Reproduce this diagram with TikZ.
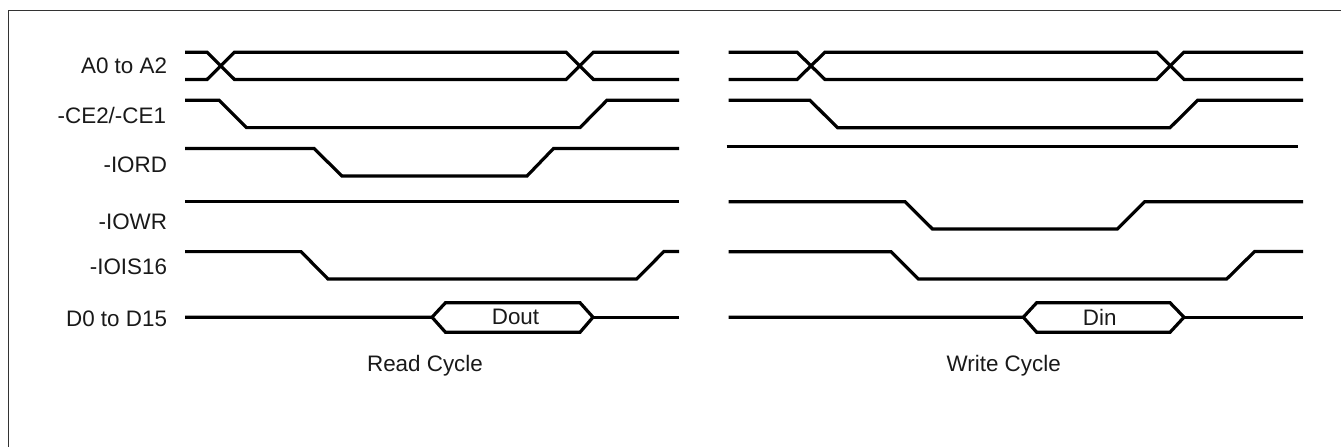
\documentclass[tikz,border=0pt]{standalone}
\usepackage{fontspec}
\setmainfont{Liberation Sans}
\tikzset{
  wave/.style={draw=black,line width=3.2pt,line join=miter,line cap=butt},
  frameline/.style={draw=black!80,line width=1.4pt},
  siglabel/.style={anchor=base east,inner sep=0pt,outer sep=0pt,text=black!90,font=\fontsize{22.4pt}{26pt}\selectfont},
  midlabel/.style={anchor=base,inner sep=0pt,outer sep=0pt,text=black!90,font=\fontsize{22.4pt}{26pt}\selectfont}
}
\begin{document}
\begin{tikzpicture}[x=1pt,y=-1pt]
\useasboundingbox (0,0) rectangle (1341,447);
\draw[frameline] (8.7,447) -- (8.7,10.7) -- (1341,10.7);
% labels
\node[siglabel] (la) at (167,73.3) {A0 to A2};
\node[siglabel] (lb) at (166,123.3) {-CE2/-CE1};
\node[siglabel] (lc) at (167,172.3) {-IORD};
\node[siglabel] (ld) at (167,229) {-IOWR};
\node[siglabel] (le) at (167,274.3) {-IOIS16};
\node[siglabel] (lf) at (167,326) {D0 to D15};
\node[midlabel] (dout) at (515.5,324.3) {Dout};
\node[midlabel] (din) at (1099.7,325) {Din};
\node[midlabel] (rc) at (425,371) {Read Cycle};
\node[midlabel] (wc) at (1003.7,371) {Write Cycle};
% read cycle
\draw[wave] (185,52.2) -- (207,52.2) -- (234.5,79.5) -- (566,79.5) -- (593.5,52.2) -- (679,52.2);
\draw[wave] (185,79.5) -- (207,79.5) -- (234.5,52.2) -- (566,52.2) -- (593.5,79.5) -- (679,79.5);
\draw[wave] (185,100.2) -- (219,100.2) -- (246.5,127.6) -- (580,127.6) -- (607,100.2) -- (679,100.2);
\draw[wave] (185,148.5) -- (314,148.5) -- (342,176) -- (527,176) -- (553.5,148.5) -- (679,148.5);
\draw[wave] (185,201.2) -- (679,201.2);
\draw[wave] (185,251.6) -- (301,251.6) -- (328,279) -- (636.7,279) -- (664,251.4) -- (679,251.4);
\draw[wave] (185,317.2) -- (432,317.2) -- (445.5,302.7) -- (580,302.7) -- (593,317.2) -- (580,332.3) -- (445.5,332.3) -- (432,317.2);
\draw[wave] (593,317.2) -- (679,317.2);
% write cycle
\draw[wave] (728.7,52.2) -- (797,52.2) -- (825,79.5) -- (1156.7,79.5) -- (1184,52.2) -- (1303,52.2);
\draw[wave] (728.7,79.5) -- (797,79.5) -- (825,52.2) -- (1156.7,52.2) -- (1184,79.5) -- (1303,79.5);
\draw[wave] (728.7,100.3) -- (810,100.3) -- (837.5,127.7) -- (1170,127.7) -- (1197.7,100.2) -- (1303,100.2);
\draw[wave] (726.7,146.4) -- (1298.3,146.4);
\draw[wave] (728.7,201.7) -- (905,201.7) -- (932.5,229) -- (1117.3,229) -- (1144.7,201.7) -- (1303,201.7);
\draw[wave] (728.7,251.7) -- (891,251.7) -- (918.3,279) -- (1226.7,279) -- (1254.7,251.4) -- (1303,251.4);
\draw[wave] (728.7,317.2) -- (1023.3,317.2) -- (1036.7,302.7) -- (1170,302.7) -- (1184,317.2) -- (1170,332.3) -- (1036.7,332.3) -- (1023.3,317.2);
\draw[wave] (1184,317.2) -- (1303,317.2);
\end{tikzpicture}
\end{document}
